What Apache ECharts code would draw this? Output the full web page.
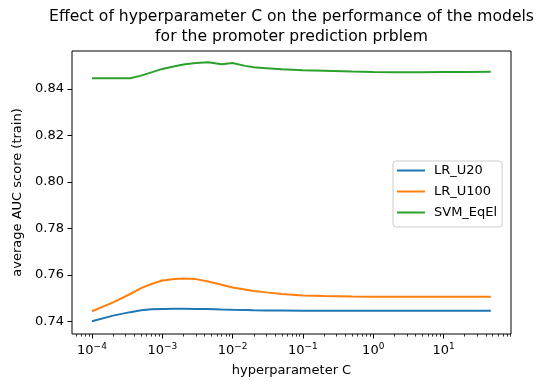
<!DOCTYPE html>
<html>
<head>
<meta charset="utf-8">
<script src="https://cdn.jsdelivr.net/npm/echarts@6/dist/echarts.min.js"></script>
<style>
  html, body { margin: 0; padding: 0; background: #ffffff; }
  #chart { width: 544px; height: 382px; }
</style>
</head>
<body>
<div id="chart"></div>
<script>
// Regularisation strengths C that were tried
const cValues = [1e-4, 2e-4, 3.5e-4, 5e-4, 7e-4, 1e-3, 1.5e-3, 2e-3, 3e-3, 4.5e-3, 7e-3, 1e-2,
                 1.5e-2, 2e-2, 3e-2, 5e-2, 0.1, 0.2, 0.5, 1, 2, 5, 10, 20, 47];

// Mean training AUC for each model
const lrU20 = [0.7401, 0.7425, 0.7440, 0.7448, 0.7452, 0.7454, 0.7455, 0.7455, 0.7454, 0.7453, 0.7451, 0.7450,
               0.7449, 0.7448, 0.7447, 0.7447, 0.7446, 0.7446, 0.7446, 0.7446, 0.7446, 0.7446, 0.7446, 0.7446, 0.7446];
const lrU100 = [0.7444, 0.7482, 0.7518, 0.7543, 0.7561, 0.7576, 0.7583, 0.7585, 0.7582, 0.7572, 0.7558, 0.7546,
                0.7537, 0.7531, 0.7525, 0.7518, 0.7512, 0.7509, 0.7507, 0.7506, 0.7506, 0.7506, 0.7506, 0.7506, 0.7506];
const svmEqEl = [0.8446, 0.8446, 0.8446, 0.8457, 0.8471, 0.8486, 0.8497, 0.8505, 0.8511, 0.8515, 0.8506, 0.8511,
                 0.8499, 0.8493, 0.8489, 0.8484, 0.8480, 0.8478, 0.8475, 0.8473, 0.8472, 0.8472, 0.8473, 0.8473, 0.8474];

const seriesNames = ['LR_U20', 'LR_U100', 'SVM_EqEl'];
const seriesColors = ['#1f77b4', '#ff7f0e', '#2ca02c'];

// Axis ticks
const yTicks = [0.74, 0.76, 0.78, 0.80, 0.82, 0.84];
const xDecades = [-4, -3, -2, -1, 0, 1];

const titleText = 'Effect of hyperparameter C on the performance of the models\nfor the promoter prediction prblem';
const xName = 'hyperparameter C';
const yName = 'average AUC score (train)';

// x is drawn on log10(C)
const xMin = -4.284, xMax = 1.959;
const yMin = 0.7346, yMax = 0.8563;

const minorTicks = [];
for (let n = -5; n <= 1; n++) {
  for (let k = 2; k <= 9; k++) {
    const v = Math.log10(k * Math.pow(10, n));
    if (v > xMin && v < xMax) minorTicks.push(v);
  }
}

const FONT = 'DejaVu Sans';
const toPairs = arr => arr.map((v, i) => [Math.log10(cValues[i]), v]);
const supMinus = n => (n < 0 ? '\u2212' + Math.abs(n) : String(n));

const chart = echarts.init(document.getElementById('chart'), null, { renderer: 'canvas' });

chart.setOption({
  animation: false,
  backgroundColor: '#ffffff',
  textStyle: { fontFamily: FONT },
  title: {
    text: titleText,
    left: 291.5,
    top: 7,
    padding: 0,
    textAlign: 'center',
    textStyle: { fontFamily: FONT, fontSize: 15.6, fontWeight: 'normal', color: '#000', lineHeight: 20 }
  },
  grid: {
    left: 72, right: 33, top: 51, bottom: 47,
    show: true, borderColor: '#000', borderWidth: 1, backgroundColor: 'transparent'
  },
  legend: {
    orient: 'vertical',
    left: 393,
    top: 161,
    padding: [2, 5, 7, 4],
    itemGap: 6,
    itemWidth: 28,
    itemHeight: 2,
    icon: 'rect',
    backgroundColor: 'rgba(255,255,255,0.8)',
    borderColor: '#cccccc',
    borderWidth: 1,
    borderRadius: 3,
    textStyle: { fontFamily: FONT, fontSize: 13, color: '#000', lineHeight: 15, padding: [0, 0, 0, 4] },
    data: seriesNames
  },
  xAxis: [
    {
      type: 'value',
      min: xMin, max: xMax,
      name: xName,
      nameLocation: 'middle',
      nameGap: 30,
      nameTextStyle: { fontFamily: FONT, fontSize: 13, color: '#000' },
      axisLine: { show: false, onZero: false },
      splitLine: { show: false },
      axisTick: { show: true, length: 4.5, customValues: xDecades, lineStyle: { color: '#000', width: 1 } },
      axisLabel: {
        customValues: xDecades,
        margin: 8,
        formatter: v => '{b|10}{s|' + supMinus(Math.round(v)) + '}',
        rich: {
          b: { fontFamily: FONT, fontSize: 13, color: '#000', lineHeight: 15, verticalAlign: 'bottom' },
          s: { fontFamily: FONT, fontSize: 9, color: '#000', lineHeight: 10, verticalAlign: 'top' }
        }
      }
    },
    {
      type: 'value',
      position: 'bottom',
      min: xMin, max: xMax,
      axisLine: { show: false, onZero: false },
      splitLine: { show: false },
      axisLabel: { show: false },
      axisTick: { show: true, length: 2.6, customValues: minorTicks, lineStyle: { color: '#000', width: 0.8 } }
    }
  ],
  yAxis: {
    type: 'value',
    position: 'left',
    min: yMin, max: yMax,
    name: yName,
    nameLocation: 'middle',
    nameGap: 43,
    nameTextStyle: { fontFamily: FONT, fontSize: 13, color: '#000' },
    axisLine: { show: false, onZero: false },
    splitLine: { show: false },
    axisTick: { show: true, length: 4.5, customValues: yTicks, lineStyle: { color: '#000', width: 1 } },
    axisLabel: {
      customValues: yTicks,
      margin: 8,
      fontFamily: FONT, fontSize: 13, color: '#000',
      formatter: v => v.toFixed(2)
    }
  },
  series: [lrU20, lrU100, svmEqEl].map((arr, i) => ({
    name: seriesNames[i],
    type: 'line',
    xAxisIndex: 0,
    data: toPairs(arr),
    showSymbol: false,
    symbol: 'none',
    smooth: false,
    color: seriesColors[i],
    lineStyle: { color: seriesColors[i], width: 2 },
    itemStyle: { color: seriesColors[i] }
  }))
});
</script>
</body>
</html>
